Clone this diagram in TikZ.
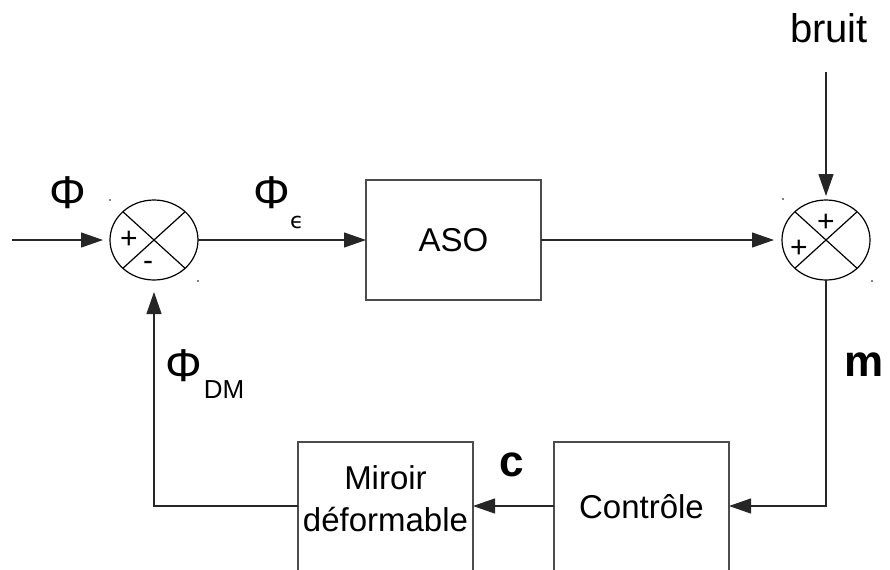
\documentclass[tikz,border=0pt]{standalone}
\usepackage{fontspec}
\setmainfont{Liberation Sans}
\newfontfamily\dejavu{DejaVu Sans}
\usetikzlibrary{arrows.meta,calc,shapes.geometric}
\begin{document}
\begin{tikzpicture}[x=0.5pt,y=-0.5pt,
 sumj/.style={ellipse,draw,line width=0.6pt,minimum width=44pt,minimum height=40pt,inner sep=0pt,outer sep=0pt},
 blk/.style={draw=black!70,line width=0.6pt,minimum width=87.5pt,inner sep=0pt,outer sep=0pt,font=\fontsize{16.5}{21}\selectfont,align=center},
 conn/.style={line width=0.6pt,draw=black!85,-{Triangle[length=11pt,width=7.5pt]}},
 lbl/.style={font=\fontsize{23}{26}\selectfont,inner sep=0pt},
 sublbl/.style={font=\fontsize{13}{15}\selectfont,inner sep=0pt},
 sgn/.style={font=\fontsize{15}{16}\selectfont,inner sep=0pt},
 boldlbl/.style={font=\fontsize{22}{24}\selectfont\bfseries,inner sep=0pt}
]
\clip (0,0) rectangle (890,569);
% summing junctions
\node[sumj] (s1) at (154,240) {};
\node[sumj] (s2) at (826,240) {};
\draw[line width=0.6pt] (s1.north west) -- (s1.south east) (s1.north east) -- (s1.south west);
\draw[line width=0.6pt] (s2.north west) -- (s2.south east) (s2.north east) -- (s2.south west);
\node[sgn] (p1) at (129,240) {+};
\node[sgn] (m1) at (148,266) {-};
\node[sgn] (p2) at (826,223) {+};
\node[sgn] (p3) at (799,249) {+};
% tiny corner dots
\fill (110,200) circle (0.9);
\fill (198,281) circle (0.9);
\fill (783,199) circle (0.9);
\fill (872,281) circle (0.9);
% blocks
\node[blk,minimum height=60pt] (aso) at (453.5,240) {ASO};
\node[blk,minimum height=69pt,text depth=5pt] (ctl) at (641.5,511) {Contrôle};
\node[blk,minimum height=69pt,text depth=12pt] (mir) at (385.5,511) {Miroir\\déformable};
% input and noise
\coordinate (in) at (12,240);
\coordinate (bt) at (826,72);
\node[font=\fontsize{20}{24}\selectfont] (bruit) at (829,28) {bruit};
% connectors
\draw[conn,shorten >=3.5pt] (in) -- (s1.west);
\draw[conn] (s1.east) -- (aso.west);
\draw[conn,shorten >=4pt] (aso.east) -- (s2.west);
\draw[conn,shorten >=2pt] (bt) -- (s2.north);
\draw[conn] (s2.south) |- ([yshift=2.5pt]ctl.east);
\draw[conn] ([yshift=2.5pt]ctl.west) -- ([yshift=2.5pt]mir.east);
\draw[conn,shorten >=6pt] ([yshift=2.5pt]mir.west) -| (s1.south);
% labels
\node[lbl] (phi) at (68,193) {Φ};
\node[lbl] (phie) at (272,193) {Φ};
\node[font=\dejavu\fontsize{11}{12}\selectfont,inner sep=0pt] (eps) at (297,222) {ϵ};
\node[lbl] (phidm) at (184,366) {Φ};
\node[sublbl] (dm) at (224,390) {DM};
\node[boldlbl] (mlbl) at (864,365) {m};
\node[boldlbl] (clbl) at (512,465) {c};
\end{tikzpicture}
\end{document}
